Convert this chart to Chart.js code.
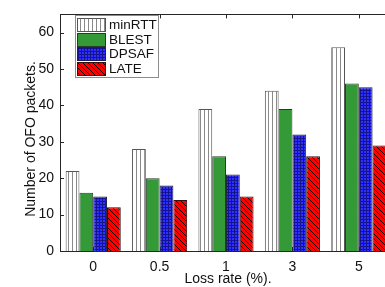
<!DOCTYPE html>
<html>
<head>
<meta charset="utf-8">
<script src="https://cdn.jsdelivr.net/npm/chart.js@4"></script>
<style>
html, body { margin: 0; padding: 0; overflow: hidden; background: #fff; }
#wrap { width: 393px; height: 287px; }
</style>
</head>
<body>
<div id="wrap"><canvas id="myChart" width="393" height="287"></canvas></div>
<script>
const lossRates = ['0', '0.5', '1', '3', '5'];
const minRTT = [22, 28, 39, 44, 56];
const blest = [16, 20, 26, 39, 46];
const dpsaf = [15, 18, 21, 32, 45];
const late = [12, 14, 15, 26, 29];
const yTicks = [0, 10, 20, 30, 40, 50, 60];

const FONT = '"Liberation Sans", Arial, sans-serif';
const INK = '#262626';

function makePattern(w, h, paint) {
    const c = document.createElement('canvas');
    c.width = w;
    c.height = h;
    paint(c.getContext('2d'), w, h);
    return document.createElement('canvas').getContext('2d').createPattern(c, 'repeat');
}

// white with thin vertical gray lines
const stripes = makePattern(4, 4, function (g, w, h) {
    g.fillStyle = '#ffffff';
    g.fillRect(0, 0, w, h);
    g.fillStyle = '#8a8a8a';
    g.fillRect(0, 0, 1, h);
});

// blue with a dark grid
const grid = makePattern(3, 3, function (g, w, h) {
    g.fillStyle = '#3030ff';
    g.fillRect(0, 0, w, h);
    g.fillStyle = '#141490';
    g.fillRect(0, 0, w, 1);
    g.fillRect(0, 0, 1, h);
});

// red with black "\" hatching
const hatch = makePattern(5, 5, function (g, w, h) {
    g.fillStyle = '#ff0000';
    g.fillRect(0, 0, w, h);
    g.fillStyle = '#1a0000';
    for (let i = 0; i < w; i++) {
        g.fillRect(i, i, 1, 1);
    }
});

const boxAndTicks = {
    id: 'boxAndTicks',
    beforeDatasetsDraw(chart) {
        const ctx = chart.ctx;
        const a = chart.chartArea;
        const y = chart.scales.y;
        const x = chart.scales.x;
        ctx.save();
        ctx.strokeStyle = INK;
        ctx.lineWidth = 1;
        ctx.beginPath();
        yTicks.forEach(function (v) {
            const py = Math.round(y.getPixelForValue(v)) + 0.5;
            ctx.moveTo(a.left, py); ctx.lineTo(a.left + 4, py);
            ctx.moveTo(a.right, py); ctx.lineTo(a.right - 4, py);
        });
        lossRates.forEach(function (c, i) {
            const px = Math.round(x.getPixelForValue(i)) + 0.5;
            ctx.moveTo(px, a.top); ctx.lineTo(px, a.top + 4);
            ctx.moveTo(px, a.bottom); ctx.lineTo(px, a.bottom - 4);
        });
        ctx.stroke();
        ctx.restore();
    },
    afterDatasetsDraw(chart) {
        const ctx = chart.ctx;
        const a = chart.chartArea;
        ctx.save();
        ctx.strokeStyle = INK;
        ctx.lineWidth = 1;
        ctx.strokeRect(Math.round(a.left) + 0.5, Math.round(a.top) + 0.5,
            Math.round(a.right - a.left), Math.round(a.bottom - a.top));
        ctx.restore();
    }
};

const titles = {
    id: 'titles',
    afterDraw(chart) {
        const ctx = chart.ctx;
        ctx.save();
        ctx.fillStyle = '#111';
        ctx.font = '14px ' + FONT;
        ctx.textAlign = 'center';
        ctx.textBaseline = 'middle';
        ctx.fillText('Loss rate (%).', 228, 279);
        ctx.translate(31, 139);
        ctx.rotate(-Math.PI / 2);
        ctx.fillText('Number of OFO packets.', 0, 0);
        ctx.restore();
    }
};

const boxLegend = {
    id: 'boxLegend',
    afterDraw(chart) {
        const ctx = chart.ctx;
        ctx.save();
        ctx.fillStyle = '#fff';
        ctx.fillRect(75, 15, 83, 62);
        ctx.strokeStyle = '#8c8c8c';
        ctx.lineWidth = 1;
        ctx.strokeRect(75.5, 15.5, 83, 62);
        ctx.font = '13.5px ' + FONT;
        ctx.textBaseline = 'middle';
        chart.data.datasets.forEach(function (ds, i) {
            const top = Math.round(18 + i * 14.7);
            ctx.fillStyle = ds.backgroundColor;
            ctx.fillRect(77, top, 28, 13);
            ctx.strokeStyle = ds.borderColor;
            ctx.strokeRect(77.5, top + 0.5, 28, 13);
            ctx.fillStyle = '#111';
            ctx.fillText(ds.label, 109, top + 7);
        });
        ctx.restore();
    }
};

new Chart(document.getElementById('myChart'), {
    type: 'bar',
    data: {
        labels: lossRates,
        datasets: [
            { label: 'minRTT', data: minRTT, backgroundColor: stripes, borderColor: '#555555', borderWidth: 1 },
            { label: 'BLEST', data: blest, backgroundColor: '#339a37', borderColor: '#2a3a2a', borderWidth: 1 },
            { label: 'DPSAF', data: dpsaf, backgroundColor: grid, borderColor: '#222244', borderWidth: 1 },
            { label: 'LATE', data: late, backgroundColor: hatch, borderColor: '#331111', borderWidth: 1 }
        ]
    },
    options: {
        responsive: false,
        animation: false,
        events: [],
        layout: { padding: { top: 6, right: 1, left: 0, bottom: 0 } },
        datasets: {
            bar: { categoryPercentage: 0.83, barPercentage: 1.0 }
        },
        plugins: {
            legend: { display: false },
            tooltip: { enabled: false }
        },
        scales: {
            x: {
                grid: { display: false, drawTicks: false },
                border: { display: false },
                ticks: { color: '#111', padding: 8, font: { family: FONT, size: 14 } },
                afterFit: function (scale) { scale.height = 36; }
            },
            y: {
                min: 0,
                max: 65,
                grid: { display: false, drawTicks: false },
                border: { display: false },
                ticks: { color: '#111', padding: 6, font: { family: FONT, size: 14 } },
                afterBuildTicks: function (scale) {
                    scale.ticks = yTicks.map(function (v) { return { value: v }; });
                },
                afterFit: function (scale) { scale.width = 60; }
            }
        }
    },
    plugins: [boxAndTicks, titles, boxLegend]
});
</script>
</body>
</html>
